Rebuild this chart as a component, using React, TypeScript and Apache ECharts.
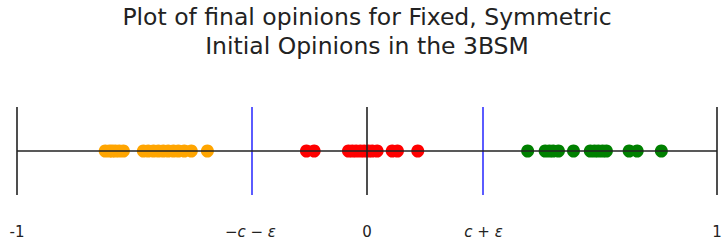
import React, { useEffect, useRef } from "react";
import * as echarts from "echarts";

const THRESHOLD = 0.333;
const tickValues = [-1, -THRESHOLD, 0, THRESHOLD, 1];
const tickLabels = ["-1", "−{i|c} − {i|ε}", "0", "{i|c} + {i|ε}", "1"];

const orangeValues = [
  -0.748, -0.736, -0.728, -0.719, -0.708, -0.696,
  -0.639, -0.625, -0.61, -0.596, -0.582, -0.568, -0.553, -0.539, -0.522, -0.502,
  -0.456,
];
const redValues = [
  -0.173, -0.151,
  -0.053, -0.042, -0.031, -0.019, -0.008, 0.004, 0.015, 0.029,
  0.072, 0.087, 0.145,
];
const greenValues = [
  0.459, 0.509, 0.521, 0.532, 0.547, 0.59,
  0.638, 0.65, 0.661, 0.673, 0.684, 0.749, 0.772, 0.841,
];

const blackLines = [-1, 0, 1];
const blueLines = [-THRESHOLD, THRESHOLD];

export default function App() {
  const ref = useRef<HTMLDivElement>(null);
  useEffect(() => {
    const chart = echarts.init(ref.current!, null, { renderer: "svg" });
    const dot = (vals: number[], color: string, name: string) => ({
      type: "scatter",
      name,
      data: vals.map((v) => [v, 0]),
      symbolSize: 13,
      itemStyle: { color, opacity: 1 },
      z: 2,
    });
    chart.setOption({
      animation: false,
      title: {
        text: "Plot of final opinions for Fixed, Symmetric\nInitial Opinions in the 3BSM",
        left: 362,
        top: -3,
        textAlign: "center",
        textStyle: {
          fontFamily: "DejaVu Sans",
          fontSize: 23.5,
          fontWeight: "normal",
          color: "#222",
          lineHeight: 29,
        },
      },
      grid: {
        left: 17,
        right: 5,
        top: 107,
        bottom: 53,
        containLabel: false,
        outerBoundsMode: "none",
      },
      xAxis: {
        type: "value",
        min: -1,
        max: 1,
        axisLine: { show: false },
        axisTick: { show: false },
        splitLine: { show: false },
        axisLabel: {
          customValues: tickValues,
          margin: 29,
          fontFamily: "DejaVu Sans",
          fontSize: 15,
          color: "#222",
          formatter: (v: number) => {
            let best = 0;
            tickValues.forEach((t, i) => {
              if (Math.abs(t - v) < Math.abs(tickValues[best] - v)) best = i;
            });
            return tickLabels[best];
          },
          rich: {
            i: { fontFamily: "DejaVu Sans", fontStyle: "italic", fontSize: 15, color: "#222" },
          },
        },
      },
      yAxis: {
        type: "value",
        min: -1,
        max: 1,
        show: false,
      },
      series: [
        dot(orangeValues, "#FFA500", "orange"),
        dot(redValues, "#FF0000", "red"),
        dot(greenValues, "#008000", "green"),
        {
          type: "line",
          data: [],
          z: 5,
          markLine: {
            silent: true,
            symbol: "none",
            animation: false,
            label: { show: false },
            data: [
              ...blackLines.map((x) => ({
                xAxis: x,
                lineStyle: { color: "#222", width: 1.6, type: "solid" },
              })),
              ...blueLines.map((x) => ({
                xAxis: x,
                lineStyle: { color: "#3333ff", width: 1.6, type: "solid" },
              })),
              { yAxis: 0, lineStyle: { color: "#222", width: 1.6, type: "solid" } },
            ],
          },
        },
      ],
    });
    return () => chart.dispose();
  }, []);
  return <div ref={ref} style={{ width: 722, height: 248, position: "absolute", left: 0, top: 0 }} />;
}
